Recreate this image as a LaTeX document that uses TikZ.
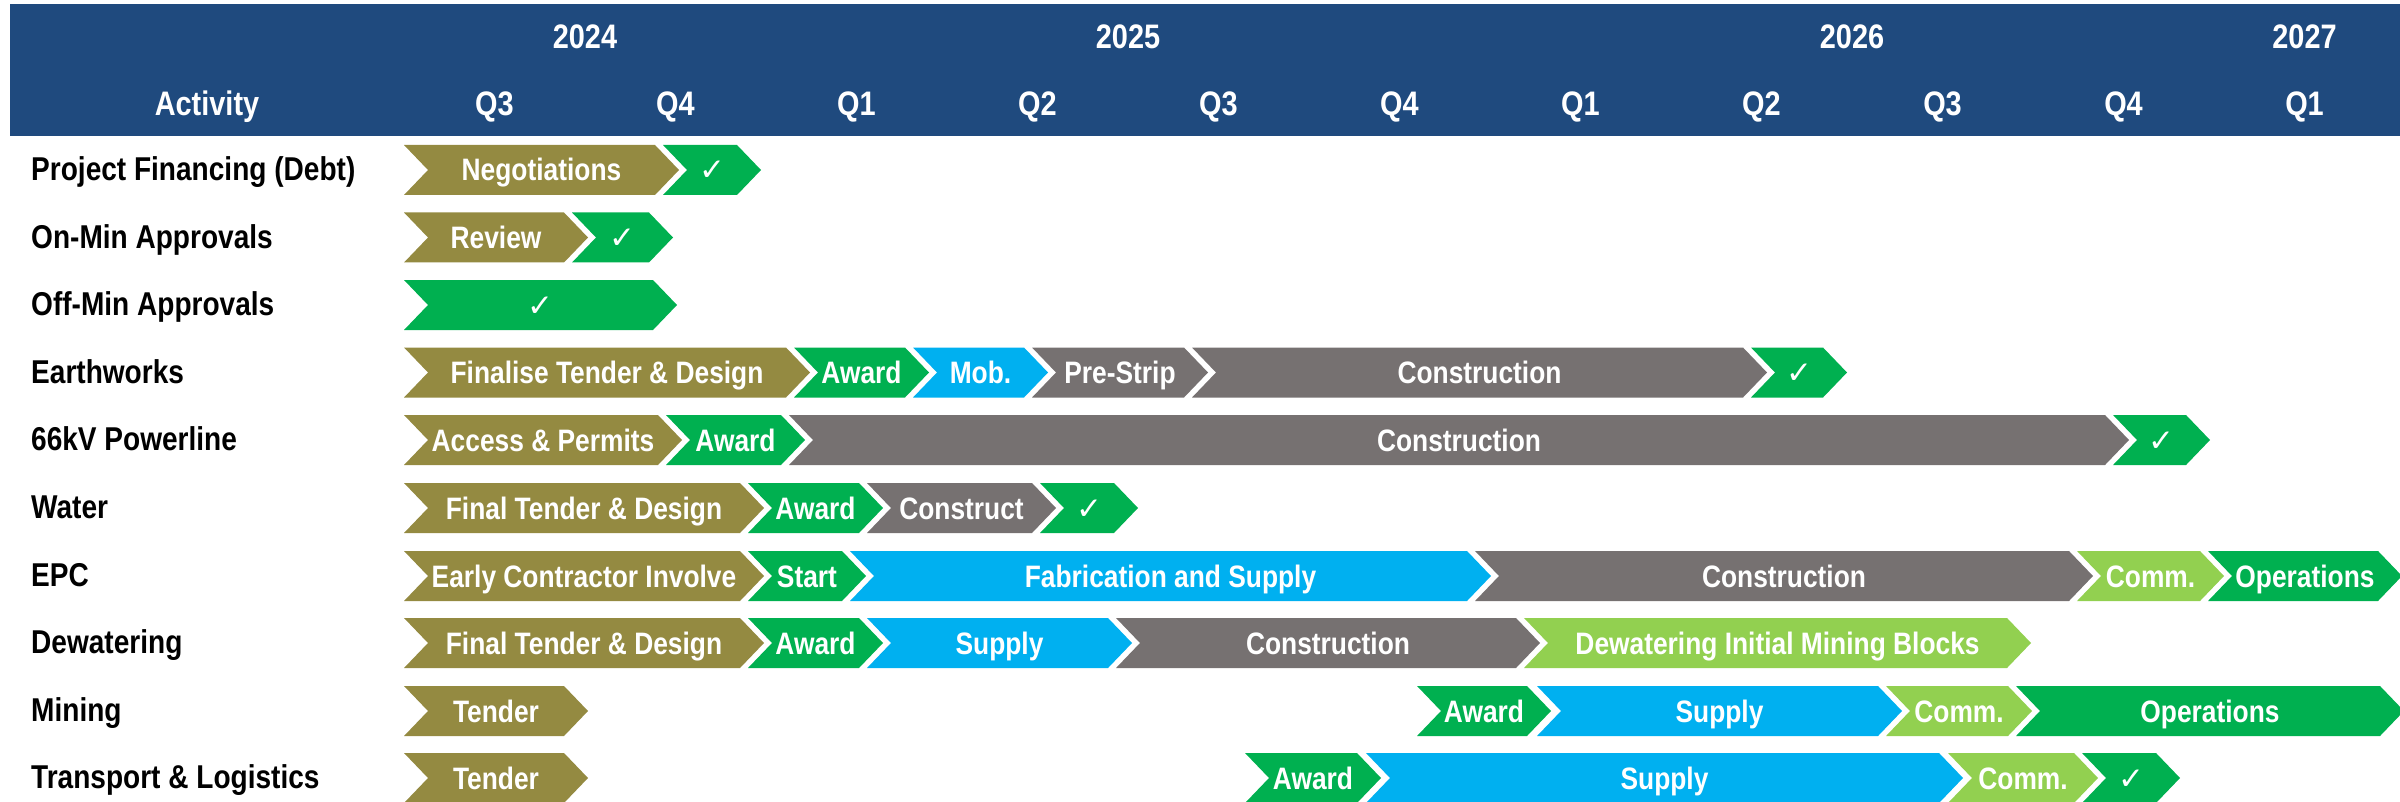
\documentclass[tikz,border=0pt]{standalone}
\usepackage{fontspec}
\newfontfamily\narrowfont[FakeStretch=0.85]{Liberation Sans}
\newfontfamily\symfont{DejaVu Sans}

\definecolor{hdrblue}{HTML}{1F4A7E}
\definecolor{olive}{HTML}{948A41}
\definecolor{okgreen}{HTML}{00B050}
\definecolor{skyblue}{HTML}{00B0F0}
\definecolor{slate}{HTML}{767171}
\definecolor{lime}{HTML}{92D050}

% check mark used for completed milestones
\newcommand{\donemark}{{\symfont\fontsize{31}{31}\selectfont ✓}}

% chevron: name, left x, right x, row y, colour, label
\newcommand{\chev}[6]{%
  \fill[#5] ({#2},{#4-25}) -- ({#3},{#4-25}) -- ({#3+24},{#4}) -- ({#3},{#4+25})
        -- ({#2},{#4+25}) -- ({#2+24},{#4}) -- cycle;
  \node[bartext] (#1) at ({(#2+24+#3)/2},{#4}) {#6};}

\tikzset{
  bartext/.style={font=\narrowfont\bfseries\fontsize{31}{31}\selectfont, text=white,
    inner sep=0pt, text height=22pt, text depth=0pt},
  rowlabel/.style={font=\narrowfont\bfseries\fontsize{33}{33}\selectfont, text=black,
    anchor=west, inner sep=0pt, text height=23.5pt, text depth=0pt},
  hdrtext/.style={font=\narrowfont\bfseries\fontsize{34}{34}\selectfont, text=white,
    inner sep=0pt, text height=24.5pt, text depth=0pt},
}

\begin{document}
\begin{tikzpicture}[x=1pt,y=-1pt]
\useasboundingbox (0,0) rectangle (2400,802);

% header band
\fill[hdrblue] (10,4) rectangle (2400,136);
\node[hdrtext] (y2024) at (585,36) {2024};
\node[hdrtext] (y2025) at (1128,36) {2025};
\node[hdrtext] (y2026) at (1852,36) {2026};
\node[hdrtext] (y2027) at (2304.5,36) {2027};
\node[hdrtext] (act) at (207,103) {Activity};
\foreach \q [count=\i] in {Q3,Q4,Q1,Q2,Q3,Q4,Q1,Q2,Q3,Q4,Q1}
  \node[hdrtext] (q\i) at ({404+181*(\i-0.5)},103) {\q};

% activity names
\node[rowlabel] (lab1) at (31,169) {Project Financing (Debt)};
\node[rowlabel] (lab2) at (31,236.5) {On-Min Approvals};
\node[rowlabel] (lab3) at (31,304) {Off-Min Approvals};
\node[rowlabel] (lab4) at (31,371.5) {Earthworks};
\node[rowlabel] (lab5) at (31,439) {66kV Powerline};
\node[rowlabel] (lab6) at (31,507) {Water};
\node[rowlabel] (lab7) at (31,575) {EPC};
\node[rowlabel] (lab8) at (31,642) {Dewatering};
\node[rowlabel] (lab9) at (31,710) {Mining};
\node[rowlabel] (lab10) at (31,777) {Transport \& Logistics};

% Project Financing
\chev{pf1}{404}{655}{170}{olive}{Negotiations}
\chev{pf2}{663}{737}{170}{okgreen}{\donemark}
% On-Min Approvals
\chev{on1}{404}{564}{237.5}{olive}{Review}
\chev{on2}{572}{649}{237.5}{okgreen}{\donemark}
% Off-Min Approvals
\chev{off1}{404}{653}{305}{okgreen}{\donemark}
% Earthworks
\chev{ew1}{404}{786}{372.5}{olive}{Finalise Tender \& Design}
\chev{ew2}{794}{905}{372.5}{okgreen}{Award}
\chev{ew3}{913}{1024}{372.5}{skyblue}{Mob.}
\chev{ew4}{1032}{1184}{372.5}{slate}{Pre-Strip}
\chev{ew5}{1192}{1743}{372.5}{slate}{Construction}
\chev{ew6}{1751}{1823}{372.5}{okgreen}{\donemark}
% 66kV Powerline
\chev{pl1}{404}{658}{440}{olive}{Access \& Permits}
\chev{pl2}{666}{781}{440}{okgreen}{Award}
\chev{pl3}{789}{2105}{440}{slate}{Construction}
\chev{pl4}{2113}{2186}{440}{okgreen}{\donemark}
% Water
\chev{wa1}{404}{740}{508}{olive}{Final Tender \& Design}
\chev{wa2}{748}{859}{508}{okgreen}{Award}
\chev{wa3}{867}{1032}{508}{slate}{Construct}
\chev{wa4}{1040}{1114}{508}{okgreen}{\donemark}
% EPC
\chev{ep1}{404}{740}{576}{olive}{Early Contractor Involve}
\chev{ep2}{748}{842}{576}{okgreen}{Start}
\chev{ep3}{850}{1467}{576}{skyblue}{Fabrication and Supply}
\chev{ep4}{1475}{2069}{576}{slate}{Construction}
\chev{ep5}{2077}{2200}{576}{lime}{Comm.}
\chev{ep6}{2208}{2378}{576}{okgreen}{Operations}
% Dewatering
\chev{dw1}{404}{740}{643}{olive}{Final Tender \& Design}
\chev{dw2}{748}{859}{643}{okgreen}{Award}
\chev{dw3}{867}{1108}{643}{skyblue}{Supply}
\chev{dw4}{1116}{1516}{643}{slate}{Construction}
\chev{dw5}{1524}{2007}{643}{lime}{Dewatering Initial Mining Blocks}
% Mining
\chev{mi1}{404}{564}{711}{olive}{Tender}
\chev{mi2}{1417}{1527}{711}{okgreen}{Award}
\chev{mi3}{1537}{1878}{711}{skyblue}{Supply}
\chev{mi4}{1886}{2008}{711}{lime}{Comm.}
\chev{mi5}{2016}{2380}{711}{okgreen}{Operations}
% Transport & Logistics
\chev{tl1}{404}{564}{778}{olive}{Tender}
\chev{tl2}{1245}{1357}{778}{okgreen}{Award}
\chev{tl3}{1366}{1939}{778}{skyblue}{Supply}
\chev{tl4}{1948}{2074}{778}{lime}{Comm.}
\chev{tl5}{2082}{2156}{778}{okgreen}{\donemark}
\end{tikzpicture}
\end{document}
